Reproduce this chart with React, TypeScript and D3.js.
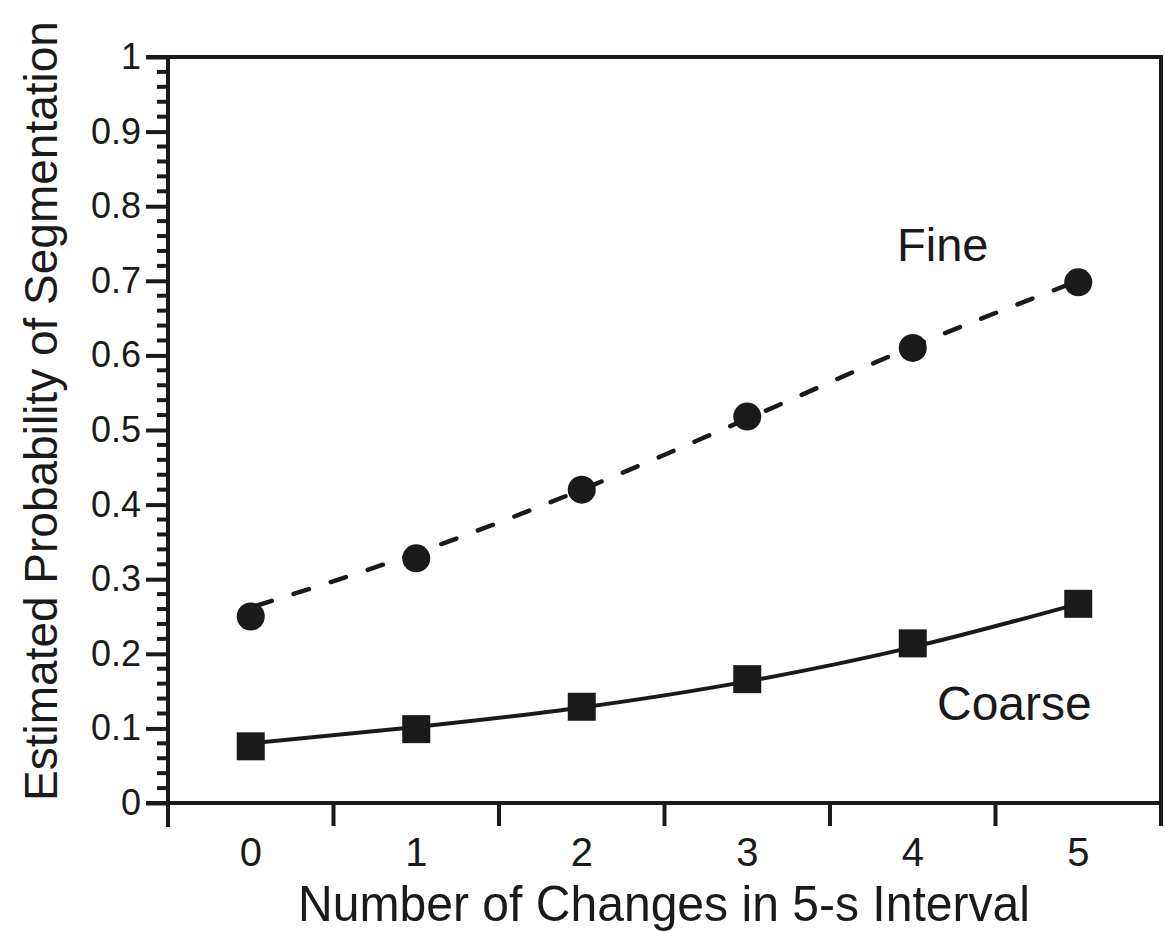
import React, { useEffect, useRef } from "react";
import * as d3 from "d3";

const categories = [0, 1, 2, 3, 4, 5];
const fineObserved = [0.25, 0.328, 0.42, 0.518, 0.61, 0.698];
const coarseObserved = [0.076, 0.099, 0.129, 0.166, 0.214, 0.267];
const fineFit = [0.262, 0.335, 0.42, 0.515, 0.612, 0.7];
const coarseFit = [0.08, 0.102, 0.128, 0.163, 0.209, 0.267];
const yTicks = [0, 0.1, 0.2, 0.3, 0.4, 0.5, 0.6, 0.7, 0.8, 0.9, 1];
const yTickLabels = ["0", "0.1", "0.2", "0.3", "0.4", "0.5", "0.6", "0.7", "0.8", "0.9", "1"];

const W = 1165;
const H = 931;
const FONT = "'Liberation Sans', Arial, Helvetica, sans-serif";
const INK = "#1a1a1a";

export default function App() {
  const ref = useRef<SVGSVGElement>(null);

  useEffect(() => {
    const svg = d3.select(ref.current);
    svg.selectAll("*").remove();

    const left = 168, right = 1161, top = 57, bottom = 803;
    const x = d3.scaleBand<number>().domain(categories).range([left, right]).padding(0);
    const cx = (c: number) => (x(c) as number) + x.bandwidth() / 2;
    const y = d3.scaleLinear().domain([0, 1]).range([bottom, top]);

    const g = svg.append("g");

    // frame: top and right
    g.append("path")
      .attr("d", `M${left - 22},${top}H${right}V${bottom}`)
      .attr("fill", "none").attr("stroke", INK).attr("stroke-width", 4);

    // y axis
    const yAxis = d3.axisLeft(y)
      .tickValues(yTicks)
      .tickFormat((d, i) => yTickLabels[i])
      .tickSize(22)
      .tickPadding(5);
    const ya = g.append("g").attr("transform", `translate(${left},0)`).call(yAxis);
    ya.select(".domain").attr("stroke", INK).attr("stroke-width", 4).attr("d", `M0,${top}V${bottom + 24}`);
    ya.selectAll(".tick line").attr("stroke", INK).attr("stroke-width", 4);
    ya.selectAll(".tick text").attr("font-family", FONT).attr("font-size", 36).attr("fill", INK);

    // minor y ticks
    const minor = d3.range(0, 1.0001, 0.02).filter((v) => Math.abs(v * 10 - Math.round(v * 10)) > 1e-6);
    g.append("g").selectAll("line").data(minor).join("line")
      .attr("x1", left - 11).attr("x2", left)
      .attr("y1", (d) => y(d)).attr("y2", (d) => y(d))
      .attr("stroke", INK).attr("stroke-width", 4);

    // x axis
    const xa = g.append("g").attr("transform", `translate(0,${bottom})`);
    xa.append("line").attr("x1", left - 22).attr("x2", right).attr("y1", 0).attr("y2", 0)
      .attr("stroke", INK).attr("stroke-width", 4);
    const bounds = categories.map((c) => x(c) as number).concat([right]);
    xa.selectAll("line.b").data(bounds).join("line").attr("class", "b")
      .attr("x1", (d) => d).attr("x2", (d) => d).attr("y1", 0).attr("y2", 23)
      .attr("stroke", INK).attr("stroke-width", 4);
    xa.selectAll("text").data(categories).join("text")
      .attr("x", (d) => cx(d)).attr("y", 63)
      .attr("text-anchor", "middle")
      .attr("font-family", FONT).attr("font-size", 40).attr("fill", INK)
      .text((d) => String(d));

    // titles
    svg.append("text")
      .attr("x", 298).attr("y", 921)
      .attr("textLength", 732).attr("lengthAdjust", "spacingAndGlyphs")
      .attr("font-family", FONT).attr("font-size", 50).attr("fill", INK)
      .text("Number of Changes in 5-s Interval");
    svg.append("text")
      .attr("transform", `translate(57,411) rotate(-90)`)
      .attr("text-anchor", "middle")
      .attr("font-family", FONT).attr("font-size", 46).attr("fill", INK)
      .text("Estimated Probability of Segmentation");

    // fit lines
    const line = d3.line<number>().x((d, i) => cx(categories[i])).y((d) => y(d)).curve(d3.curveMonotoneX);
    g.append("path").attr("d", line(fineFit)).attr("fill", "none").attr("stroke", INK)
      .attr("stroke-width", 4.5).attr("stroke-dasharray", "16 23").attr("stroke-linecap", "round")
      .attr("stroke-dashoffset", -6);
    g.append("path").attr("d", line(coarseFit)).attr("fill", "none").attr("stroke", INK)
      .attr("stroke-width", 4);

    // markers
    g.append("g").selectAll("circle").data(fineObserved).join("circle")
      .attr("cx", (d, i) => cx(categories[i])).attr("cy", (d) => y(d)).attr("r", 14)
      .attr("fill", INK);
    g.append("g").selectAll("rect").data(coarseObserved).join("rect")
      .attr("x", (d, i) => cx(categories[i]) - 14).attr("y", (d) => y(d) - 14)
      .attr("width", 28).attr("height", 28).attr("fill", INK);

    // series labels
    svg.append("text").attr("x", 897).attr("y", 261)
      .attr("font-family", FONT).attr("font-size", 47).attr("fill", INK).text("Fine");
    svg.append("text").attr("x", 937).attr("y", 720)
      .attr("font-family", FONT).attr("font-size", 48).attr("fill", INK).text("Coarse");
  }, []);

  return (
    <svg ref={ref} width={W} height={H}
      style={{ position: "absolute", left: 0, top: 0, background: "#fff" }} />
  );
}
